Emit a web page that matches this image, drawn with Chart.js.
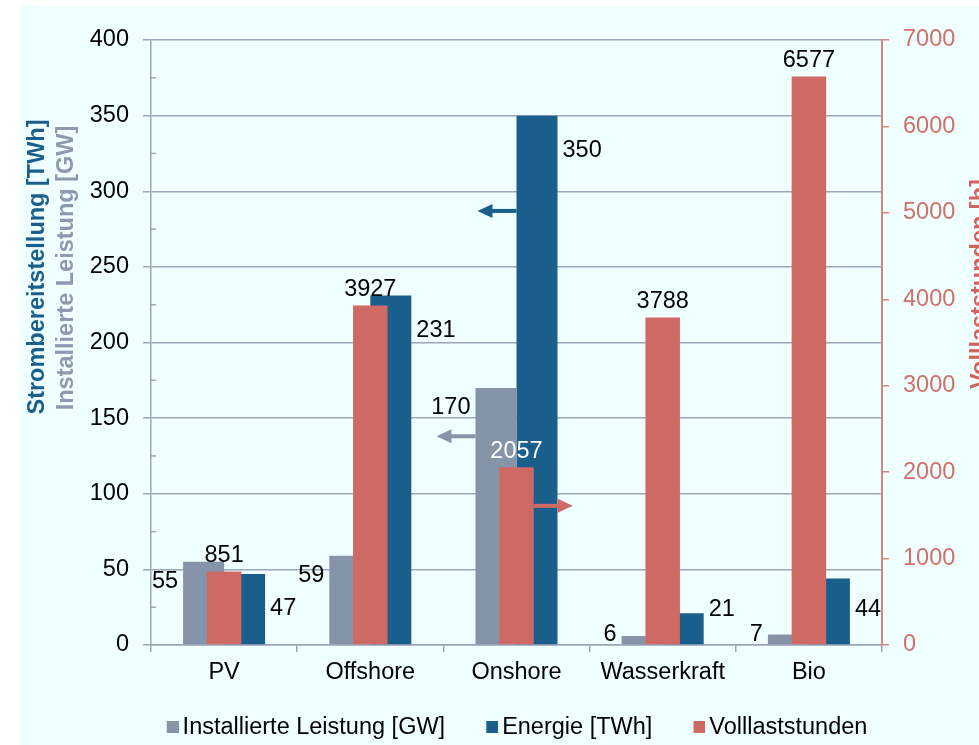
<!DOCTYPE html>
<html>
<head>
<meta charset="utf-8">
<script src="https://cdn.jsdelivr.net/npm/chart.js@4.4.0/dist/chart.umd.min.js"></script>
<style>
    html, body { margin: 0; padding: 0; background: #ffffff; overflow: hidden; }
    #wrap { position: absolute; left: 20px; top: 5px; width: 1000px; height: 744px; background: #f0ffff; }
</style>
</head>
<body>
<div id="wrap"><canvas id="myChart" width="1000" height="744"></canvas></div>
<script>
// data
const categories = ['PV', 'Offshore', 'Onshore', 'Wasserkraft', 'Bio'];
const leistungGW = [55, 59, 170, 6, 7];
const energieTWh = [47, 231, 350, 21, 44];
const volllaststunden = [851, 3927, 2057, 3788, 6577];

const FONT = "'Liberation Sans', Arial, sans-serif";
const FS = 23.5;
const GRAY = '#8694aa';
const BLUE = '#1a5f8c';
const RED = '#cf6963';
const GRID = '#9aa6ba';
const RED_AXIS = '#d9837d';

// legend swatch: square sits close to the label text
function swatch(color) {
    const c = document.createElement('canvas');
    c.width = 32;
    c.height = 12;
    const g = c.getContext('2d');
    g.fillStyle = color;
    g.fillRect(20, 0, 12, 12);
    return c;
}

// value labels next to / above the bars
const barLabels = {
    id: 'barLabels',
    afterDatasetsDraw(chart) {
        const ctx = chart.ctx;
        ctx.save();
        ctx.font = FS + 'px ' + FONT;
        ctx.textBaseline = 'middle';
        chart.data.datasets.forEach((ds, i) => {
            const meta = chart.getDatasetMeta(i);
            meta.data.forEach((bar, j) => {
                const val = ds.data[j];
                const left = bar.x - bar.width / 2;
                const right = bar.x + bar.width / 2;
                ctx.fillStyle = (ds.labelColors && ds.labelColors[j]) || '#000';
                if (ds.labelPos === 'left') {
                    ctx.textAlign = 'right';
                    ctx.fillText(val, left - 5, Math.min(bar.y + 20, bar.base - 10));
                } else if (ds.labelPos === 'right') {
                    ctx.textAlign = 'left';
                    ctx.fillText(val, right + 5, Math.min(bar.y + 35, bar.base - 35));
                } else {
                    ctx.textAlign = 'center';
                    ctx.fillText(val, bar.x, bar.y - 16);
                }
            });
        });
        ctx.restore();
    }
};

// arrows that point to the matching axis, plus axis titles and minor ticks
const extras = {
    id: 'extras',
    afterDraw(chart, args, opts) {
        const ctx = chart.ctx;
        ctx.save();

        opts.arrows.forEach(a => {
            const meta = chart.getDatasetMeta(a.dataset);
            const bar = meta.data[a.index];
            const y = meta.vScale.getPixelForValue(a.value);
            const dir = a.side === 'left' ? -1 : 1;
            const x0 = bar.x + dir * bar.width / 2;
            const x1 = x0 + dir * 39;
            ctx.fillStyle = a.color;
            ctx.strokeStyle = a.color;
            ctx.lineWidth = 4;
            ctx.beginPath();
            ctx.moveTo(x0, y);
            ctx.lineTo(x1 - dir * 12, y);
            ctx.stroke();
            ctx.beginPath();
            ctx.moveTo(x1, y);
            ctx.lineTo(x1 - dir * 15, y - 7);
            ctx.lineTo(x1 - dir * 15, y + 7);
            ctx.closePath();
            ctx.fill();
        });

        // minor ticks on the left axis
        const ys = chart.scales.y;
        ctx.strokeStyle = GRID;
        ctx.lineWidth = 1.5;
        for (let v = 25; v < 400; v += 50) {
            const py = ys.getPixelForValue(v);
            ctx.beginPath();
            ctx.moveTo(chart.chartArea.left, py);
            ctx.lineTo(chart.chartArea.left + 5, py);
            ctx.stroke();
        }

        ctx.font = 'bold ' + FS + 'px ' + FONT;
        ctx.textAlign = 'center';
        ctx.textBaseline = 'alphabetic';
        opts.titles.forEach(t => {
            ctx.save();
            ctx.translate(t.x, t.y);
            ctx.rotate(-Math.PI / 2);
            ctx.fillStyle = t.color;
            ctx.fillText(t.text, 0, 0);
            ctx.restore();
        });
        ctx.restore();
    }
};

const ctx = document.getElementById('myChart').getContext('2d');
const myChart = new Chart(ctx, {
    type: 'bar',
    data: {
        labels: categories,
        datasets: [
            {
                label: 'Installierte Leistung [GW]',
                data: leistungGW,
                backgroundColor: GRAY,
                yAxisID: 'y',
                order: 1,
                categoryPercentage: 0.561,
                barPercentage: 1,
                labelPos: 'left'
            },
            {
                label: 'Energie [TWh]',
                data: energieTWh,
                backgroundColor: BLUE,
                yAxisID: 'y',
                order: 1,
                categoryPercentage: 0.561,
                barPercentage: 1,
                labelPos: 'right'
            },
            {
                label: 'Volllaststunden',
                data: volllaststunden,
                backgroundColor: RED,
                yAxisID: 'y2',
                order: 0,
                grouped: false,
                categoryPercentage: 0.236,
                barPercentage: 1,
                labelPos: 'top',
                labelColors: ['#000', '#000', '#ffffff', '#000', '#000']
            }
        ]
    },
    options: {
        responsive: false,
        animation: false,
        layout: { padding: { top: 35, left: 0, right: 18, bottom: 0 } },
        plugins: {
            tooltip: { enabled: false },
            legend: {
                position: 'bottom',
                labels: {
                    usePointStyle: true,
                    boxWidth: 16.25,
                    boxHeight: 12,
                    padding: 29,
                    color: '#000',
                    font: { family: FONT, size: FS },
                    generateLabels: chart => Chart.defaults.plugins.legend.labels.generateLabels(chart)
                        .map(item => Object.assign(item, { pointStyle: swatch(item.fillStyle) })),
                    sort: (a, b) => a.datasetIndex - b.datasetIndex
                }
            },
            extras: {
                arrows: [
                    { dataset: 1, index: 2, value: 287, side: 'left', color: BLUE },
                    { dataset: 0, index: 2, value: 138, side: 'left', color: GRAY },
                    { dataset: 2, index: 2, value: 1610, side: 'right', color: RED }
                ],
                titles: [
                    { text: 'Strombereitstellung [TWh]', x: 24, y: 262, color: BLUE },
                    { text: 'Installierte Leistung [GW]', x: 53, y: 263, color: '#8c9ab0' },
                    { text: 'Volllaststunden [h]', x: 967, y: 279, color: '#d0655f' }
                ]
            }
        },
        scales: {
            x: {
                position: 'bottom',
                offset: true,
                afterFit: s => { s.height = 41.5; },
                grid: { drawOnChartArea: false, offset: true, tickLength: 7, color: GRID, lineWidth: 1.5 },
                border: { color: GRID, width: 1.5 },
                ticks: { color: '#000', padding: 6, font: { family: FONT, size: FS } }
            },
            y: {
                position: 'left',
                min: 0,
                max: 400,
                afterFit: s => { s.width = 131; },
                grid: { color: GRID, lineWidth: 1.5, tickLength: 8 },
                border: { color: GRID, width: 1.5 },
                ticks: { stepSize: 50, color: '#000', padding: 14, font: { family: FONT, size: FS } }
            },
            y2: {
                position: 'right',
                min: 0,
                max: 7000,
                afterFit: s => { s.width = 120; },
                grid: { drawOnChartArea: false, color: RED_AXIS, lineWidth: 1.5, tickLength: 7 },
                border: { color: RED_AXIS, width: 2 },
                ticks: {
                    stepSize: 1000,
                    color: '#d2706a',
                    padding: 14,
                    font: { family: FONT, size: FS },
                    callback: v => String(v)
                }
            }
        }
    },
    plugins: [barLabels, extras]
});
</script>
</body>
</html>
